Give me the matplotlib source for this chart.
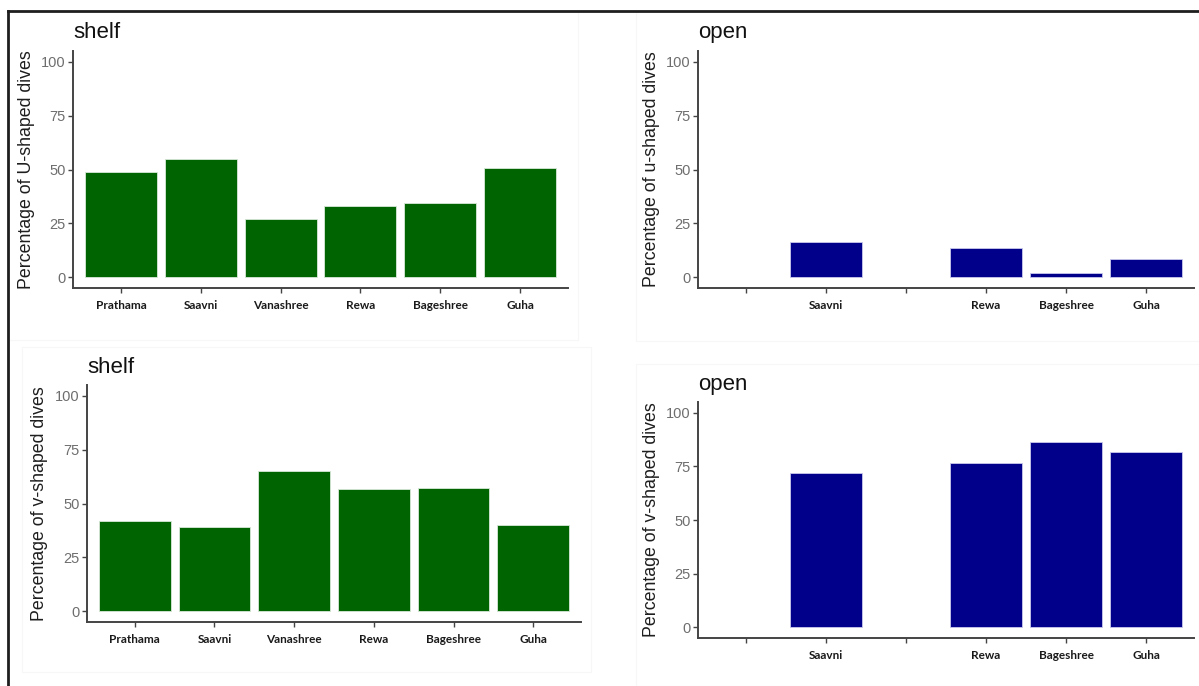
import numpy as np
import matplotlib

matplotlib.use("Agg")
import matplotlib.pyplot as plt
from matplotlib.lines import Line2D

# Dive shapes per individual, split by habitat (shelf vs open water)
individuals = ["Prathama", "Saavni", "Vanashree", "Rewa", "Bageshree", "Guha"]
shelf_u = [49, 55, 27, 33, 34.5, 50.5]
open_u = [np.nan, 16.5, np.nan, 13.5, 2, 8.5]
shelf_v = [42, 39, 65, 56.5, 57, 40]
open_v = [np.nan, 72, np.nan, 76.5, 86.5, 81.5]
y_ticks = [0, 25, 50, 75, 100]

GREEN = "#006400"
BLUE = "#00008b"

W, H = 1199, 686
fig = plt.figure(figsize=(W / 100, H / 100), dpi=100)
fig.patch.set_facecolor("white")


def px_axes(left, top, right, bottom):
    return fig.add_axes([left / W, 1 - bottom / H, (right - left) / W, (bottom - top) / H])


def fig_line(xs, ys, **kw):
    fig.add_artist(Line2D([x / W for x in xs], [1 - y / H for y in ys], transform=fig.transFigure, **kw))


# faint panel backgrounds from the pasted sub-figures
for x0, y0, x1, y1 in [(8, 11, 578, 340), (22, 347, 591, 672), (636, 11, 1199, 341), (636, 364, 1199, 686)]:
    fig_line([x0, x1, x1, x0, x0], [y0, y0, y1, y1, y0], color="#f7f7f7", lw=0.8, zorder=0)

# outer frame
fig_line([8, 8], [11, 686], color="#1e1e1e", lw=2.0)
fig_line([8, 1199], [11, 11], color="#1e1e1e", lw=2.0)


def panel(box, values, color, title, title_xy, ylabel, ylabel_x):
    ax = px_axes(*box)
    x = np.arange(1, len(individuals) + 1)
    vals = np.array(values, dtype=float)
    ok = ~np.isnan(vals)
    ax.bar(x[ok], vals[ok], width=0.9, color=color, edgecolor="#d8e8d8" if color == GREEN else "#c8c8ec",
           linewidth=0.6)
    ax.set_xlim(0.4, len(individuals) + 0.6)
    ax.set_ylim(-5, 105)
    ax.set_yticks(y_ticks)
    ax.set_xticks(x)
    ax.set_xticklabels([n if k else "" for n, k in zip(individuals, ok)],
                       fontfamily="Lato", fontweight="bold", fontsize=8.5, color="#1a1a1a")
    for lab in ax.get_yticklabels():
        lab.set_fontfamily("Liberation Sans")
        lab.set_fontsize(10.5)
        lab.set_color("#6e6e6e")
    ax.tick_params(axis="both", length=3.5, width=1.0, color="#444444", pad=2)
    ax.tick_params(axis="x", pad=5)
    for s in ["top", "right"]:
        ax.spines[s].set_visible(False)
    for s in ["left", "bottom"]:
        ax.spines[s].set_color("#444444")
        ax.spines[s].set_linewidth(1.4)
    ax.set_facecolor("none")

    fig.text(title_xy[0] / W, 1 - title_xy[1] / H, title, fontsize=16, family="Liberation Sans",
             color="#111111", va="baseline", ha="left")
    cy = (box[1] + box[3]) / 2
    fig.text(ylabel_x / W, 1 - cy / H, ylabel, rotation=90, fontsize=12.8, family="Liberation Sans",
             color="#1e1e1e", va="center", ha="center")
    return ax


panel((73, 51, 568, 288), shelf_u, GREEN, "shelf", (73, 38), "Percentage of U-shaped dives", 27)
panel((698, 51, 1194, 288), open_u, BLUE, "open", (698, 38), "Percentage of u-shaped dives", 652)
panel((87, 385, 581, 622), shelf_v, GREEN, "shelf", (87, 373), "Percentage of v-shaped dives", 40)
panel((698, 402, 1194, 638), open_v, BLUE, "open", (698, 390), "Percentage of v-shaped dives", 652)

fig.savefig("out.png", dpi=100, facecolor=fig.get_facecolor())
